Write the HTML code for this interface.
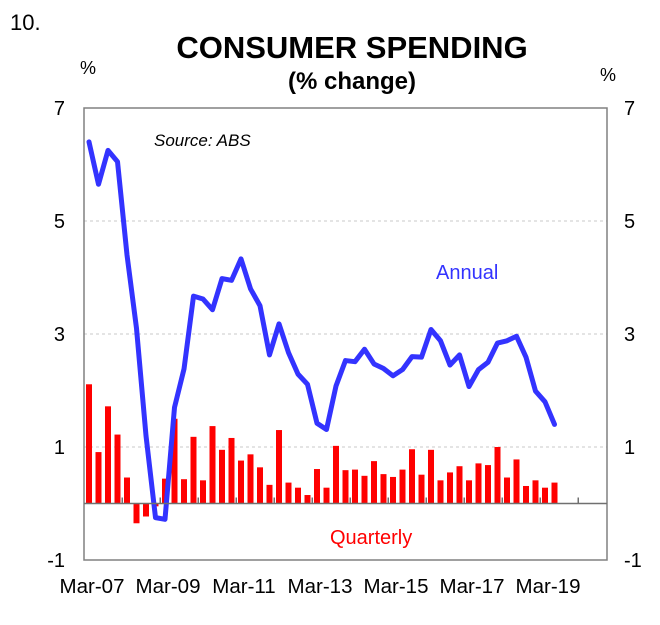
<!DOCTYPE html>
<html><head><meta charset="utf-8"><style>
body{margin:0;background:#fff}
svg text{font-family:"Liberation Sans",Arial,sans-serif}
</style></head><body>
<svg id="c" width="660" height="620" viewBox="0 0 660 620" xmlns="http://www.w3.org/2000/svg">
<text x="10" y="30" font-size="22">10.</text>
<text x="352" y="58" font-size="31" font-weight="bold" text-anchor="middle">CONSUMER SPENDING</text>
<text x="352" y="89" font-size="24" font-weight="bold" text-anchor="middle">(% change)</text>
<text x="88" y="74" font-size="18" text-anchor="middle">%</text>
<text x="608" y="81" font-size="18" text-anchor="middle">%</text>
<text x="154" y="146" font-size="17" font-style="italic">Source: ABS</text>
<text x="436" y="279" font-size="20" fill="#3333ff">Annual</text>
<text x="330" y="544" font-size="20" fill="#ff0000">Quarterly</text>
<g id="grid"></g><g id="bars"></g><g id="lineg"></g><g id="axes"></g>
</svg>
<script>
const yTicks=[7,5,3,1,-1];
const xLabels=["Mar-07","Mar-09","Mar-11","Mar-13","Mar-15","Mar-17","Mar-19"];
const quarterly=[2.11,0.91,1.72,1.22,0.46,-0.35,-0.23,-0.05,0.44,1.5,0.43,1.18,0.41,1.37,0.95,1.16,0.76,0.87,0.64,0.33,1.30,0.37,0.28,0.15,0.61,0.28,1.02,0.59,0.60,0.49,0.75,0.52,0.47,0.60,0.96,0.51,0.95,0.41,0.55,0.66,0.41,0.71,0.68,1.00,0.46,0.78,0.31,0.41,0.28,0.37];
const annual=[6.4,5.65,6.25,6.05,4.4,3.1,1.2,-0.25,-0.28,1.70,2.38,3.67,3.62,3.43,3.98,3.95,4.33,3.80,3.50,2.63,3.18,2.67,2.29,2.11,1.42,1.31,2.08,2.53,2.51,2.73,2.47,2.39,2.26,2.37,2.60,2.59,3.08,2.88,2.45,2.63,2.07,2.37,2.50,2.84,2.88,2.96,2.59,1.99,1.80,1.40];
const NS="http://www.w3.org/2000/svg";
const L=84,R=607,T=108,B=560,ymin=-1,ymax=7;
function y(v){return B-(v-ymin)/(ymax-ymin)*(B-T);}
function x(i){return 89+i*9.5;}
function mk(t,a,p){const e=document.createElementNS(NS,t);for(const k in a)e.setAttribute(k,a[k]);p.appendChild(e);return e;}
const grid=document.getElementById('grid'),bars=document.getElementById('bars'),lg=document.getElementById('lineg'),ax=document.getElementById('axes');
yTicks.forEach(v=>{
 if(v>ymin&&v<ymax){const g=mk('line',{x1:L,x2:R,y1:y(v),y2:y(v),stroke:'#c8c8c8','stroke-dasharray':'3,3','stroke-width':1},grid);
 
 }
 const t1=mk('text',{x:65,y:y(v)+7,'font-size':20,'text-anchor':'end'},ax);t1.textContent=v;
 
 
 const t2=mk('text',{x:624,y:y(v)+7,'font-size':20},ax);t2.textContent=v;
 
 
});
quarterly.forEach((v,i)=>{
 const y0=y(0),yv=y(v);
 const r=mk('rect',{x:x(i)-3,y:Math.min(y0,yv),width:6,height:Math.abs(yv-y0),fill:'#ff0000'},bars);
 
 
});
const p=mk('polyline',{points:annual.map((v,i)=>x(i)+','+y(v)).join(' '),fill:'none',stroke:'#3333ff','stroke-width':5,'stroke-linejoin':'round','stroke-linecap':'round'},lg);


const f=mk('rect',{x:L,y:T,width:R-L,height:B-T,fill:'none',stroke:'#808080','stroke-width':1.5},ax);


const z=mk('line',{x1:L,x2:R,y1:y(0),y2:y(0),stroke:'#707070','stroke-width':1.5},ax);


for(let k=0;k<13;k++){const xi=x(3.5+4*k);
 const tk=mk('line',{x1:xi,x2:xi,y1:y(0),y2:y(0)-6,stroke:'#707070','stroke-width':1.5},ax);
 
 }
xLabels.forEach((s,j)=>{
 const t=mk('text',{x:x(j*8)+3,y:593,'font-size':20.5,'text-anchor':'middle'},ax);t.textContent=s;
 
 
});
</script>
</body></html>
